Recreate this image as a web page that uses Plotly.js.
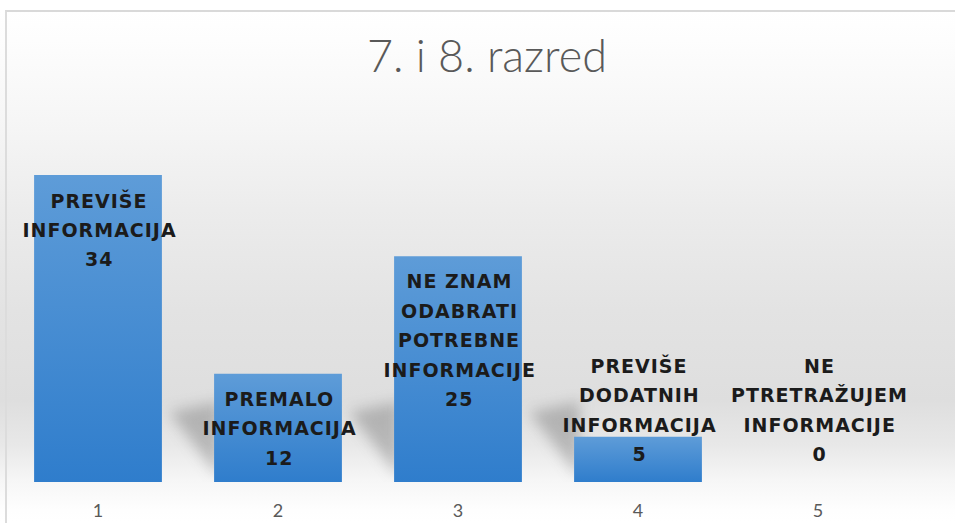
<!DOCTYPE html>
<html>
<head>
<meta charset="utf-8">
<script src="https://cdn.plot.ly/plotly-3.0.1.min.js"></script>
<style>
html,body{margin:0;padding:0;background:#fff;}
#wrap{position:relative;width:955px;height:523px;overflow:hidden;
 background:linear-gradient(to bottom,#ffffff 0px,#ffffff 10px,#fdfdfd 40px,#f6f6f6 120px,#ececec 210px,#e3e3e3 310px,#dedede 400px,#e8e8e8 445px,#f6f6f6 480px,#fefefe 510px,#ffffff 523px);}
#frame{position:absolute;left:5px;top:10px;width:960px;height:530px;border-top:2px solid #d9d9d9;border-left:2px solid #dcdcdc;box-sizing:border-box;pointer-events:none;}
#chart{position:absolute;left:0;top:0;width:955px;height:523px;}
#chart .annotation-text{letter-spacing:1px;}
#chart .shapelayer path{filter:blur(7px);}
</style>
</head>
<body>
<div id="wrap"><div id="frame"></div><div id="chart"></div></div>
<script>
// ---- data ----
const categories = ['1', '2', '3', '4', '5'];
const values = [34, 12, 25, 5, 0];
const labelLines = [
  ['PREVIŠE', 'INFORMACIJA'],
  ['PREMALO', 'INFORMACIJA'],
  ['NE ZNAM', 'ODABRATI', 'POTREBNE', 'INFORMACIJE'],
  ['PREVIŠE', 'DODATNIH', 'INFORMACIJA'],
  ['NE', 'PTRETRAŽUJEM', 'INFORMACIJE']
];
const chartTitle = '7. i 8. razred';

// ---- layout constants ----
const W = 955, H = 523;
const mL = 8, mR = 47, mB = 41;
const yMax = 38;
const pxPerUnit = 307 / 34;
const plotH = yMax * pxPerUnit;
const mT = H - mB - plotH;
const bargap = 0.29;
const catPx = (W - mL - mR) / categories.length;
const lineGap = 29.5, firstOff = 25, bottomOff = 28;

const annotations = [];
categories.forEach((c, i) => {
  const lines = labelLines[i].concat([String(values[i])]);
  const n = lines.length;
  const barPx = values[i] * pxPerUnit;
  const need = firstOff + (n - 1) * lineGap + 12;
  const fits = barPx >= need;
  lines.forEach((t, j) => {
    annotations.push({
      x: i, y: fits ? values[i] : 0, xref: 'x', yref: 'y',
      text: t, showarrow: false, xanchor: 'center', yanchor: 'middle',
      xshift: 1,
      yshift: fits ? -(firstOff + j * lineGap) : (bottomOff + (n - 1 - j) * lineGap),
      font: {family: 'DejaVu Sans', size: 19, color: '#1b1b1b', weight: 700}
    });
  });
});

// soft perspective shadows behind bars (derived from bar positions)
const shapes = [];
values.forEach((v, i) => {
  if (i === 0 || v <= 0) return;
  const x0 = i - (1 - bargap) / 2;
  const dx = 45 / catPx, hUp = 70 / pxPerUnit, hTop = 80 / pxPerUnit;
  shapes.push({
    type: 'path', xref: 'x', yref: 'y', layer: 'below',
    path: `M ${x0 + 0.03},0.5 L ${x0 - dx},${hUp} L ${x0 + 0.03},${hTop} Z`,
    fillcolor: 'rgba(70,70,70,0.30)', line: {width: 0}
  });
});

const trace = {
  type: 'bar', x: categories, y: values,
  marker: {color: '#4589d3', line: {width: 0}},
  hoverinfo: 'none'
};

const layout = {
  width: W, height: H,
  margin: {l: mL, r: mR, t: mT, b: mB, pad: 0},
  paper_bgcolor: 'rgba(0,0,0,0)', plot_bgcolor: 'rgba(0,0,0,0)',
  bargap: bargap,
  showlegend: false,
  title: {text: chartTitle, x: 487 / W, xref: 'container', xanchor: 'center', y: 1 - 56 / H, yref: 'container', yanchor: 'middle',
    font: {family: 'Lato', size: 45, color: '#595959', weight: 300}},
  xaxis: {type: 'category', range: [-0.5, categories.length - 0.5], autorange: false,
    showgrid: false, zeroline: false, showline: false, ticks: '',
    tickfont: {family: 'Lato', size: 18, color: '#595959'}, ticklabelstandoff: 16},
  yaxis: {range: [0, yMax], autorange: false, visible: false, showgrid: false, zeroline: false},
  shapes: shapes,
  annotations: annotations
};

Plotly.newPlot('chart', [trace], layout, {displayModeBar: false, staticPlot: true}).then(gd => {
  const svg = gd.querySelector('svg.main-svg');
  const ns = 'http://www.w3.org/2000/svg';
  let defs = svg.querySelector('defs');
  if (!defs) { defs = document.createElementNS(ns, 'defs'); svg.insertBefore(defs, svg.firstChild); }
  // vertical gradient on bars
  const lg = document.createElementNS(ns, 'linearGradient');
  lg.setAttribute('id', 'barGrad');
  lg.setAttribute('x1', '0'); lg.setAttribute('y1', '0'); lg.setAttribute('x2', '0'); lg.setAttribute('y2', '1');
  [['0', '#5e9cd8'], ['1', '#2f7dcc']].forEach(([o, col]) => {
    const s = document.createElementNS(ns, 'stop');
    s.setAttribute('offset', o); s.setAttribute('stop-color', col);
    lg.appendChild(s);
  });
  defs.appendChild(lg);
  gd.querySelectorAll('.bars .point path').forEach(p => { p.style.fill = 'url(#barGrad)'; });
  gd.querySelectorAll('.shapelayer path').forEach(p => { p.style.filter = 'blur(7px)'; });
});
</script>
</body>
</html>
